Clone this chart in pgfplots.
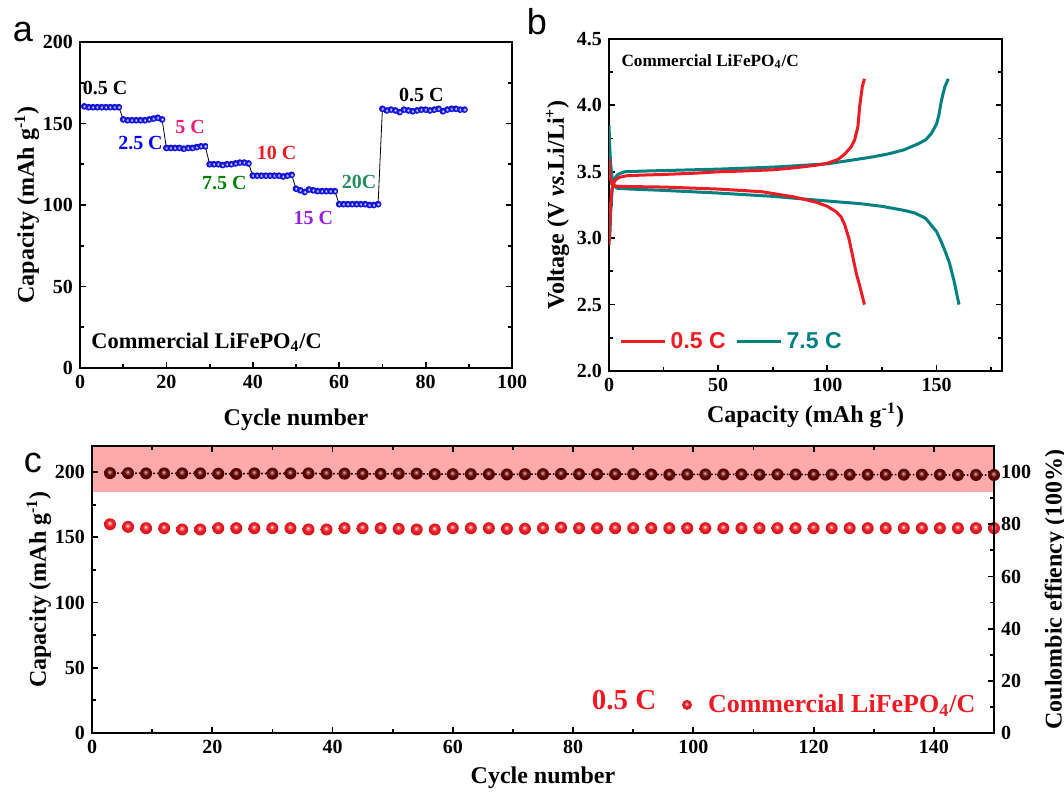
\documentclass[border=0pt]{standalone}
\usepackage{pgfplots}
\pgfplotsset{compat=1.18}
\usepackage{fontspec}
\setmainfont{Liberation Serif}
\setsansfont{Liberation Sans}
\definecolor{myteal}{RGB}{0,128,128}
\definecolor{myred}{RGB}{237,28,36}
\definecolor{bandpink}{RGB}{255,170,170}
\definecolor{cemaroon}{RGB}{100,0,0}
\definecolor{lblpink}{RGB}{240,30,120}
\definecolor{lblgreen}{RGB}{0,128,0}
\definecolor{lblpurple}{RGB}{150,30,230}
\definecolor{lblteal}{RGB}{40,140,100}
\definecolor{ballblue}{RGB}{20,20,235}
\pgfdeclareradialshading{sballred}{\pgfpoint{-3bp}{6bp}}{color(0bp)=(white); color(5bp)=(myred!55!white); color(13bp)=(myred); color(25bp)=(myred!88!black); color(50bp)=(myred!60!black)}
\pgfdeclareradialshading{sballmaroon}{\pgfpoint{-3bp}{6bp}}{color(0bp)=(cemaroon!25!white); color(5bp)=(cemaroon!60!white); color(13bp)=(cemaroon); color(25bp)=(cemaroon!80!black); color(50bp)=(black)}
\pgfdeclareradialshading{sballblue}{\pgfpoint{0bp}{2bp}}{color(0bp)=(white); color(6bp)=(ballblue!45!white); color(13bp)=(ballblue); color(25bp)=(ballblue!85!black); color(50bp)=(ballblue!60!black)}
\pgfdeclareplotmark{ballred}{\pgfpathcircle{\pgfpointorigin}{\pgfplotmarksize}\pgfshadepath{sballred}{0}\pgfusepath{discard}}
\pgfdeclareplotmark{ballmaroon}{\pgfpathcircle{\pgfpointorigin}{\pgfplotmarksize}\pgfshadepath{sballmaroon}{0}\pgfusepath{discard}}
\pgfdeclareplotmark{ballblue}{\pgfpathcircle{\pgfpointorigin}{\pgfplotmarksize}\pgfshadepath{sballblue}{0}\pgfusepath{discard}}
\pgfplotsset{
  panel/.style={
    scale only axis, anchor=south west,
    axis line style={line width=1.2pt},
    every tick/.style={line width=0.9pt, black},
    major tick length=3pt, minor tick length=1.8pt,
    tick label style={font=\bfseries\fontsize{10}{12}\selectfont},
    label style={font=\bfseries\fontsize{12}{14}\selectfont},
    /pgf/number format/assume math mode=true,
  }
}
\pgfplotstableread{
x y
1 160.5
2 160
3 160
4 160
5 160
6 160
7 160
8 160
9 160
10 152.5
11 152
12 152
13 152
14 152
15 152
16 152.5
17 153
18 153.5
19 152.5
20 135
21 135
22 135
23 135
24 134.5
25 135
26 135
27 135.5
28 136
29 136
30 125
31 125
32 125
33 124.5
34 125
35 125
36 125.5
37 126
38 126
39 125.5
40 118
41 118
42 118
43 118
44 118
45 118
46 118
47 117.5
48 118
49 118.5
50 110
51 109
52 108
53 109.5
54 109
55 108.5
56 108.5
57 108.5
58 108.5
59 108.5
60 100.5
61 100.5
62 100.5
63 100.5
64 100.5
65 100.5
66 100.5
67 100
68 100
69 100.5
70 159
71 158
72 158.5
73 158
74 157
75 158.5
76 158
77 157.5
78 158
79 158.5
80 158.5
81 158
82 158.5
83 159
84 157.5
85 158.5
86 159
87 159
88 158.5
89 158.5
}\ratedata
\pgfplotstableread{
x y
3 160
6 158
9 157
12 157
15 156
18 156
21 157
24 157
27 157
30 157
33 157
36 156
39 156
42 157
45 157
48 157
51 156.5
54 156
57 156
60 157
63 157
66 157
69 156.5
72 156.5
75 157
78 157.5
81 157
84 157
87 157
90 157
93 157
96 157
99 157
102 157
105 157
108 157
111 157
114 157
117 157
120 157
123 157
126 157
129 157
132 157
135 157
138 157
141 157
144 157
147 157
150 157
}\cycdata
\pgfplotstableread{
x y
3 99.6
6 99.6
9 99.5
12 99.5
15 99.5
18 99.5
21 99.4
24 99.3
27 99.5
30 99.4
33 99.5
36 99.5
39 99.4
42 99.4
45 99.3
48 99.3
51 99.4
54 99.4
57 99.2
60 99.2
63 99.2
66 99.2
69 99.1
72 99.2
75 99.2
78 99.3
81 99.2
84 99.2
87 99.2
90 99.2
93 99.1
96 99.0
99 99.1
102 99.1
105 99.1
108 99.1
111 99.0
114 99.1
117 99.1
120 99.0
123 99.0
126 99.0
129 99.0
132 99.0
135 99.0
138 99.0
141 99.0
144 98.9
147 98.9
150 98.9
}\cedata
\begin{document}
\begin{tikzpicture}
\useasboundingbox (0,0) rectangle (532pt,396pt);
% ---------------- panel a ----------------
\begin{axis}[panel, at={(40pt,212pt)}, width=216pt, height=163pt,
  xmin=0, xmax=100, ymin=0, ymax=200,
  xtick={0,20,...,100}, ytick={0,50,...,200},
  minor x tick num=1, minor y tick num=1, xtick pos=left,
  xlabel={Cycle number}, ylabel={Capacity (mAh g\textsuperscript{-1})},
  xlabel style={yshift=-3.5pt}, ylabel style={yshift=-5pt}]
\addplot[black, line width=0.4pt, mark=ballblue, mark size=1.7pt] table {\ratedata};
\begin{scope}[font=\bfseries\fontsize{10}{12}\selectfont]
\node[black] at (axis cs:5.8,171.8) {0.5 C};
\node[blue] at (axis cs:14,138) {2.5 C};
\node[lblpink] at (axis cs:25.5,148) {5 C};
\node[lblgreen] at (axis cs:33.4,113.5) {7.5 C};
\node[myred] at (axis cs:45.5,132) {10 C};
\node[lblpurple] at (axis cs:54,92) {15 C};
\node[lblteal] at (axis cs:64.6,114) {20C};
\node[black] at (axis cs:79,167.5) {0.5 C};
\end{scope}
\node[anchor=west, font=\bfseries\fontsize{11.2}{13}\selectfont] at (axis cs:1,16) {Commercial LiFePO\textsubscript{4}/C};
\end{axis}
% ---------------- panel b ----------------
\begin{axis}[panel, at={(304.5pt,210.5pt)}, width=196.5pt, height=166pt,
  xmin=0, xmax=180, ymin=2, ymax=4.5,
  xtick={0,50,100,150}, minor xtick={25,75,125,175},
  ytick={2,2.5,...,4.5}, minor y tick num=1, xtick pos=left,
  yticklabel style={/pgf/number format/.cd, fixed, fixed zerofill, precision=1},
  xlabel={Capacity (mAh g\textsuperscript{-1})},
  ylabel={Voltage (V \textit{vs}.Li/Li\textsuperscript{+})},
  ylabel style={yshift=-3pt}, xlabel style={yshift=1pt},
  legend style={at={(0.011,0.088)}, anchor=west, draw=none, fill=none,
    font=\sffamily\bfseries\fontsize{11.5}{13}\selectfont,
    /tikz/every even column/.append style={column sep=3pt}},
  legend columns=2,
  legend image code/.code={\draw[#1] (0pt,0pt) -- (22pt,0pt);}]
\addplot[myteal, line width=1.5pt, forget plot] coordinates {
(0,3.85) (0.3,3.7) (0.8,3.55) (1.5,3.44) (2.5,3.39) (4,3.375) (10,3.37) (25,3.36) (50,3.34) (75,3.315) (100,3.28) (115,3.26) (125,3.24) (135,3.21) (140,3.19) (145,3.15) (147,3.11) (150,3.05) (152,2.98) (154,2.9) (156,2.81) (158,2.68) (160.3,2.5)};
\addplot[myteal, line width=1.5pt, forget plot] coordinates {
(0.3,2.98) (0.8,3.2) (1.5,3.38) (2.5,3.45) (4,3.48) (7,3.5) (15,3.505) (50,3.52) (75,3.535) (100,3.56) (110,3.585) (120,3.61) (128,3.635) (135,3.665) (141.5,3.71) (145,3.74) (147.7,3.79) (150,3.86) (151,3.92) (152.3,4.04) (153.8,4.14) (155.4,4.2)};
\addplot[myred, line width=1.5pt] coordinates {
(0,2.95) (0.3,3.1) (0.7,3.25) (1.2,3.35) (2,3.41) (3,3.44) (5,3.46) (8,3.47) (15,3.475) (25,3.48) (40,3.49) (50,3.5) (60,3.505) (75,3.515) (85,3.53) (95,3.55) (100,3.564) (105,3.594) (108,3.634) (111,3.69) (112.5,3.74) (114,3.84) (114.8,3.99) (116,4.14) (117,4.2)};
\addlegendentry{\textcolor{myred}{0.5 C}}
\addplot[myred, line width=1.5pt, forget plot] coordinates {
(0,3.6) (0.5,3.47) (1.2,3.41) (2,3.395) (5,3.39) (25,3.385) (50,3.37) (70,3.35) (85,3.31) (95,3.27) (100,3.24) (104,3.2) (106.3,3.16) (108,3.1) (110,2.99) (113.2,2.74) (115,2.63) (117,2.5)};
\addlegendimage{myteal, line width=1.5pt}
\addlegendentry{\textcolor{myteal}{7.5 C}}
\node[anchor=west, font=\bfseries\fontsize{8.6}{10}\selectfont] at (axis cs:2.5,4.33) {Commercial LiFePO\textsubscript{4}/C};
\end{axis}
% ---------------- panel c ----------------
\begin{axis}[panel, at={(46pt,29.5pt)}, width=451pt, height=143.5pt,
  xmin=0, xmax=150, ymin=0, ymax=220,
  xtick={0,20,...,140}, ytick={0,50,...,200},
  minor x tick num=1, minor y tick num=1, ytick pos=left, axis on top,
  xlabel={Cycle number}, ylabel={Capacity (mAh g\textsuperscript{-1})},
  ylabel style={yshift=-5pt},
  legend style={at={(0.647,0.098)}, anchor=west, draw=none, fill=none,
    font=\bfseries\fontsize{13}{15}\selectfont, text=myred},
  legend image post style={mark size=2.5pt}]
\addplot[fill=bandpink, draw=none, forget plot] coordinates {(0,185) (150,185) (150,220) (0,220)} -- cycle;
\addplot[only marks, mark=ballred, mark size=3pt] table {\cycdata};
\addlegendentry{\hspace{6pt}Commercial LiFePO\textsubscript{4}/C}
\node[myred, font=\bfseries\fontsize{14.5}{16}\selectfont] at (axis cs:88.5,25) {0.5 C};
\end{axis}
\begin{axis}[panel, at={(46pt,29.5pt)}, width=451pt, height=143.5pt,
  xmin=0, xmax=150, ymin=0, ymax=110,
  axis x line=none, axis y line*=right,
  ytick={0,20,...,100}, minor y tick num=1,
  ylabel={Coulombic effiency (100\%)}]
\addplot[black, densely dotted, line width=0.8pt, mark=ballmaroon, mark size=3pt, mark options={solid}] table {\cedata};
\end{axis}
% panel letters
\node[font=\sffamily\fontsize{18}{20}\selectfont] at (11.5pt,380pt) {a};
\node[font=\sffamily\fontsize{18}{20}\selectfont] at (268.5pt,385pt) {b};
\node[font=\sffamily\fontsize{18}{20}\selectfont] at (16.5pt,164.5pt) {c};
\end{tikzpicture}
\end{document}
